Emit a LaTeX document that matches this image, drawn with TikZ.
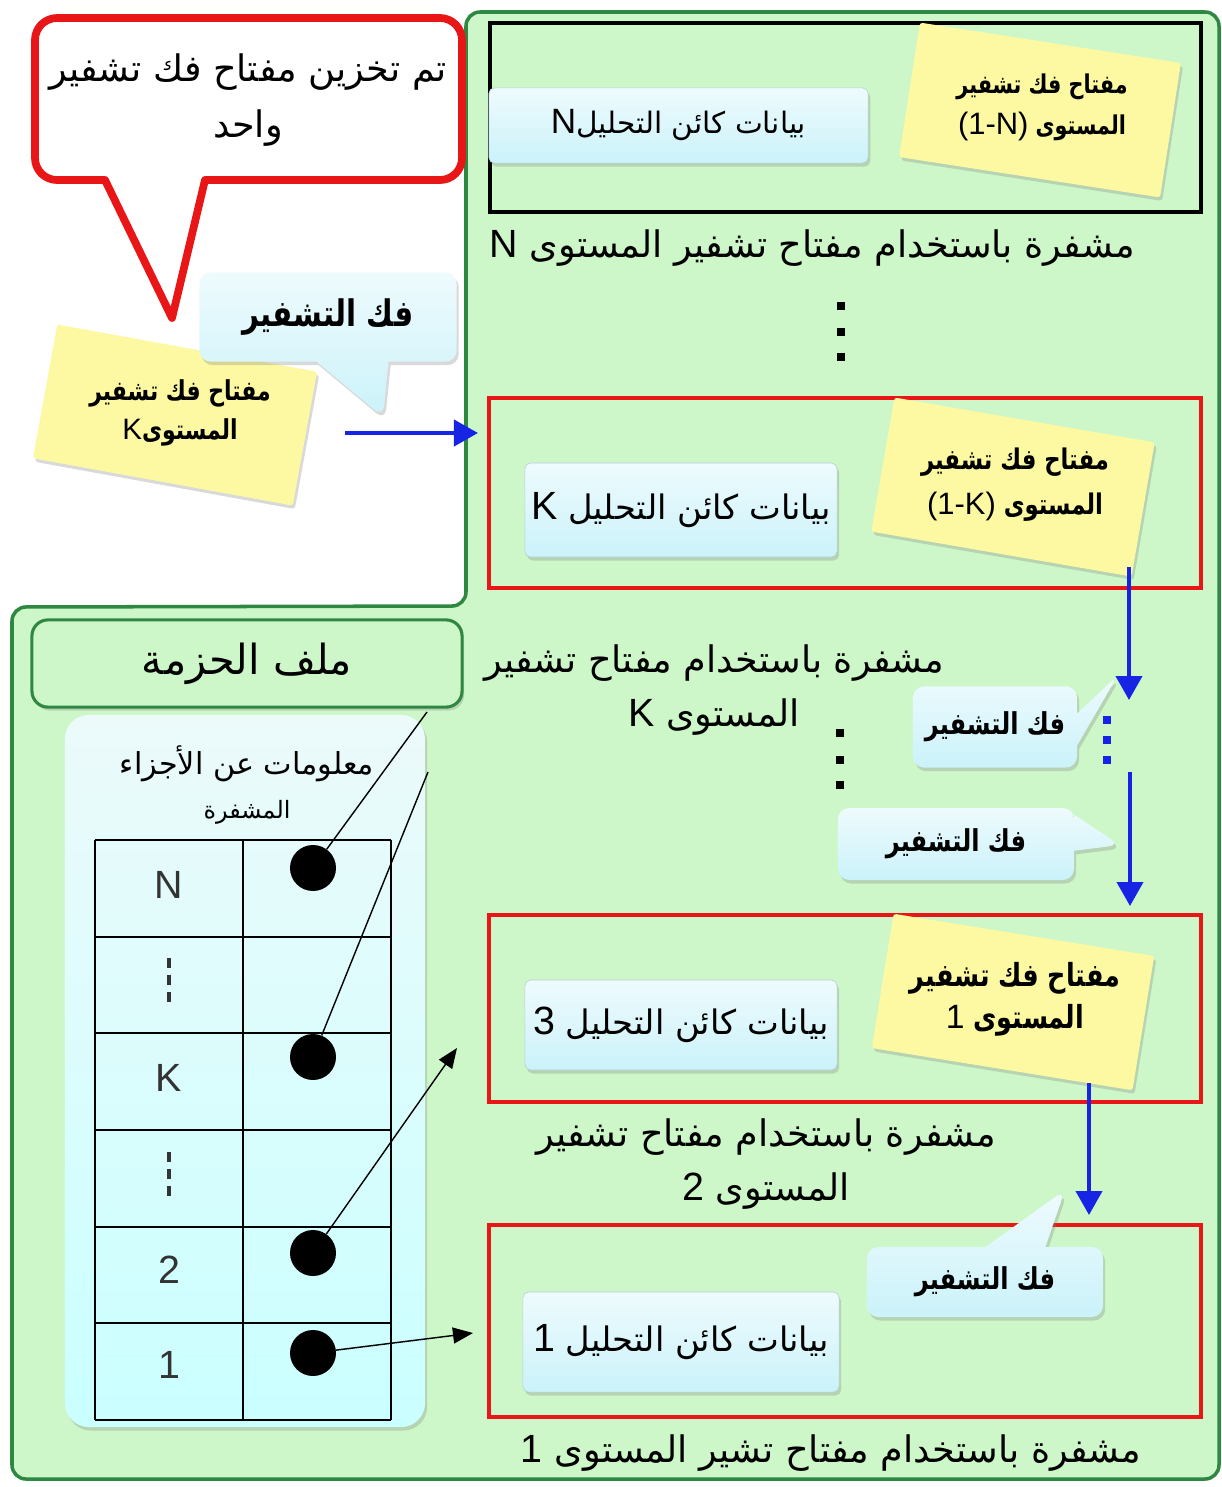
\documentclass[tikz,border=0pt]{standalone}
\usepackage{fontspec}
\usepackage{graphicx}
\setmainfont{Liberation Sans}
\newfontfamily\arabicfont[Script=Arabic]{DejaVu Sans}
\TeXXeTstate=1
\usetikzlibrary{arrows.meta,shapes.callouts,shadows,positioning}

\definecolor{greenbg}{RGB}{206,247,201}
\definecolor{greenline}{RGB}{46,136,66}
\definecolor{redline}{RGB}{232,22,22}
\definecolor{bluearrow}{RGB}{24,36,228}
\definecolor{keyyellow}{RGB}{253,249,163}
\definecolor{datatop}{RGB}{238,251,253}
\definecolor{databot}{RGB}{203,242,250}
\definecolor{paneltop}{RGB}{236,250,250}
\definecolor{panelbot}{RGB}{202,255,255}

\newcommand\ar[1]{{\arabicfont\beginR #1\endR}}
\newcommand\car[1]{\scalebox{0.8}[1]{\ar{#1}}}
\newcommand\sz[2]{\fontsize{#1pt}{#2pt}\selectfont}
\newcommand\lt[2][]{\beginL{\rmfamily\mdseries#1\relax #2}\endL}

\tikzset{
  softshadow/.style={drop shadow={opacity=0.3, shadow xshift=1.5pt, shadow yshift=-2.5pt}},
  levelbox/.style={draw, line width=3pt, inner sep=0pt},
  dataobj/.style={rounded corners=4pt, top color=datatop, bottom color=databot,
    draw=databot!70!gray, line width=0.4pt, softshadow, inner sep=0pt,
    font=\sz{24}{28}},
  keynote/.style={fill=keyyellow, minimum width=6.6cm, minimum height=3.4cm,
    softshadow, rounded corners=2pt, inner sep=0pt},
  keytext/.style={align=center, font=\bfseries\sz{18}{30}},
  decrypt/.style={rectangle callout, rounded corners=8pt, top color=datatop,
    bottom color=databot, softshadow, inner sep=0pt,
    font=\bfseries\sz{21.4}{24}},
  enclabel/.style={align=center, font=\sz{26}{39}},
  flow/.style={bluearrow, line width=2.8pt, -{Triangle[length=0.6cm, width=0.65cm]}},
  tablearrow/.style={line width=1pt, -{Triangle[length=0.5cm, width=0.4cm]}},
  celldot/.style={circle, fill=black, minimum size=1.15cm, inner sep=0pt},
  rowlbl/.style={font=\sz{28}{30}, text=black!80},
  smalldot/.style={fill, minimum size=5.5pt, inner sep=0pt},
}

\begin{document}
\begin{tikzpicture}[x=0.025cm, y=-0.025cm]
  \useasboundingbox (0,0) rectangle (1222,1487);

  % green area
  \draw[greenline, fill=greenbg, line width=2.5pt, rounded corners=0.35cm]
    (466,606) -- (466,12) -- (1219,12) -- (1219,1479) -- (12,1479) -- (12,607) -- cycle;

  % stored key bubble
  \draw[redline, fill=white, line width=5.5pt, line join=round, softshadow]
    (105,180) [rounded corners=0.55cm] -- (35,180) -- (35,18) -- (462,18) -- (462,180)
    [sharp corners] -- (205,180) -- (172,318) -- cycle;
  \node[enclabel, font=\sz{26}{40}] (stored) at (248,100)
    {\ar{تم تخزين مفتاح فك تشفير}\\\ar{واحد}};

  \node[keynote, rotate=-10.3] (keyL) at (175,415) {};
  \node[keytext, font=\bfseries\sz{19.5}{28}] (keyLtxt) at (180,413)
    {\car{مفتاح فك تشفير}\\\lt[\sz{21}{28}]{K}\car{المستوى}};
  \node[decrypt, minimum width=6.43cm, minimum height=2.23cm, font=\bfseries\sz{26}{28},
    callout absolute pointer={(383,417)}, callout pointer width=1.8cm]
    (decTop) at (328,317) {\car{فك التشفير}};
  \coordinate (inS) at (345,433);
  \coordinate (inE) at (478,433);
  \draw[flow] (inS) -- (inE);

  % level N
  \node[levelbox, minimum width=17.78cm, minimum height=4.73cm] (lvN) at (845.5,117.5) {};
  \node[dataobj, minimum width=9.48cm, minimum height=1.88cm, font=\sz{21}{24}]
    (objN) at (678.5,125.5) {\ar{بيانات كائن التحليل\lt[\sz{25}{28}]{N}}};
  \node[keynote, rotate=-8.8] (keyN) at (1040,110) {};
  \node[keytext, font=\bfseries\sz{18.4}{29}] (keyNtxt) at (1042,107)
    {\car{مفتاح فك تشفير}\\\lt[\sz{22}{29}]{(1-N)}\ \car{المستوى}};
  \node[enclabel] (encN) at (812,248)
    {\ar{مشفرة باستخدام مفتاح تشفير  المستوى \lt[\sz{28}{30}]{N}}};
  \foreach \y in {306,332,357} \node[smalldot] at (841,\y) {};

  % level K
  \node[levelbox, draw=redline, minimum width=17.8cm, minimum height=4.75cm] (lvK) at (845,493) {};
  \node[dataobj, minimum width=7.8cm, minimum height=2.35cm] (objK) at (681,510)
    {\ar{بيانات كائن التحليل \lt[\sz{28}{30}]{K}}};
  \node[keynote, rotate=-9.8] (keyK) at (1013,487) {};
  \node[keytext, font=\bfseries\sz{20.2}{32}] (keyKtxt) at (1015,485)
    {\car{مفتاح فك تشفير}\\\lt[\sz{22}{32}]{(1-K)}\ \car{المستوى}};
  \node[enclabel] (encK) at (714,690)
    {\ar{مشفرة باستخدام مفتاح تشفير}\\\ar{المستوى \lt[\sz{28}{39}]{K}}};
  \foreach \y in {733,760,785} \node[smalldot] at (840,\y) {};

  \coordinate (kS) at (1129,567);
  \coordinate (kE) at (1129,700);
  \coordinate (jS) at (1130,772);
  \coordinate (jE) at (1130,906);
  \draw[flow] (kS) -- (kE);
  \draw[flow] (jS) -- (jE);
  \foreach \y in {720,740,760} \node[smalldot, bluearrow] at (1107,\y) {};
  \node[decrypt, minimum width=4.1cm, minimum height=2.03cm,
    callout absolute pointer={(1118,675)}, callout pointer width=0.8cm]
    (decA) at (995,727) {\car{فك التشفير}};
  \node[decrypt, minimum width=5.9cm, minimum height=1.8cm,
    callout absolute pointer={(1120,845)}, callout pointer width=0.9cm]
    (decB) at (956,844) {\car{فك التشفير}};

  % level 3
  \node[levelbox, draw=redline, minimum width=17.8cm, minimum height=4.68cm] (lv3) at (845,1008.5) {};
  \node[dataobj, minimum width=7.8cm, minimum height=2.25cm] (obj3) at (681,1025)
    {\ar{بيانات كائن التحليل \lt[\sz{28}{30}]{3}}};
  \node[keynote, rotate=-9.2] (key1) at (1013,1002) {};
  \node[keytext, font=\bfseries\sz{22.6}{30}] (key1txt) at (1015,999)
    {\car{مفتاح فك تشفير}\\\lt[\sz{24}{30}]{1}\ \car{المستوى}};
  \node[enclabel] (enc2) at (766,1164)
    {\ar{مشفرة باستخدام مفتاح تشفير}\\\ar{المستوى \lt[\sz{28}{39}]{2}}};
  \coordinate (tS) at (1089,1083);
  \coordinate (tE) at (1089,1215);
  \draw[flow] (tS) -- (tE);

  % level 1
  \node[levelbox, draw=redline, minimum width=17.8cm, minimum height=4.8cm] (lv1) at (845,1321) {};
  \node[decrypt, minimum width=5.9cm, minimum height=1.75cm,
    callout absolute pointer={(1065,1190)}, callout pointer width=1.5cm]
    (decC) at (985,1282) {\car{فك التشفير}};
  \node[dataobj, minimum width=7.9cm, minimum height=2.5cm] (obj1) at (681,1342)
    {\ar{بيانات كائن التحليل \lt[\sz{28}{30}]{1}}};
  \node[enclabel] (enc1) at (831,1453)
    {\ar{مشفرة باستخدام مفتاح تشير  المستوى \lt[\sz{28}{30}]{1}}};

  % package file
  \node[draw=greenline, fill=greenbg, line width=2.2pt, rounded corners=0.4cm,
    minimum width=10.75cm, minimum height=2.18cm, softshadow,
    font=\sz{29.5}{32}] (pkg) at (247,663.5) {\ar{ملف الحزمة}};
  \node[rounded corners=0.6cm, top color=paneltop, bottom color=panelbot,
    minimum width=9cm, minimum height=17.8cm, softshadow] (panel) at (245,1071) {};
  \node[align=center, font=\sz{21.5}{31}] (panelTxt) at (247,785)
    {\ar{معلومات عن الأجزاء}\\{\sz{17}{18}\ar{المشفرة}}};

  \foreach \y in {840,937,1033,1130,1227,1323,1420}
    \draw[line width=2pt] (95,\y) -- (391,\y);
  \foreach \x in {95,243,391}
    \draw[line width=2pt] (\x,840) -- (\x,1420);
  \node[rowlbl] (rN) at (169,885) {N};
  \node[rowlbl] (rK) at (169,1078) {K};
  \node[rowlbl] (r2) at (169,1270) {2};
  \node[rowlbl] (r1) at (169,1365) {1};
  \draw[line width=3pt, dash pattern=on 7pt off 5pt, black!80] (169,958) -- (169,1002);
  \draw[line width=3pt, dash pattern=on 7pt off 5pt, black!80] (169,1152) -- (169,1196);

  \node[celldot] (dN) at (313,868) {};
  \node[celldot] (dK) at (313,1057) {};
  \node[celldot] (d2) at (313,1253) {};
  \node[celldot] (d1) at (313,1353) {};
  \coordinate (pN) at (427,712);
  \coordinate (pK) at (428,772);
  \coordinate (p2) at (457,1048);
  \coordinate (p1) at (473,1333);
  \draw[line width=1pt] (dN) -- (pN);
  \draw[line width=1pt] (dK) -- (pK);
  \draw[tablearrow] (d2) -- (p2);
  \draw[tablearrow] (d1) -- (p1);
\end{tikzpicture}
\end{document}
